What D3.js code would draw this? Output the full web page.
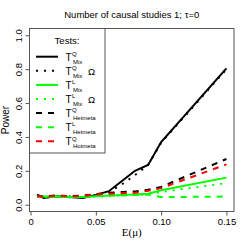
<!DOCTYPE html>
<html>
<head>
<meta charset="utf-8">
<script src="https://cdn.jsdelivr.net/npm/d3@7"></script>
<style>
  body { margin: 0; background: #fff; }
  svg { display: block; }
  text { font-family: "Liberation Sans", Arial, sans-serif; fill: #000; }
</style>
</head>
<body>
<script>
// E(mu) values on the x axis
const mus = [0.005, 0.01, 0.02, 0.03, 0.04, 0.05, 0.06, 0.07, 0.08, 0.09, 0.10, 0.15]

// power for each test
const tqMix     = [0.060, 0.040, 0.050, 0.045, 0.040, 0.058, 0.080, 0.140, 0.200, 0.235, 0.370, 0.805]
const tqMixOm   = [0.055, 0.045, 0.050, 0.048, 0.042, 0.055, 0.075, 0.120, 0.175, 0.235, 0.365, 0.800]
const tlMix     = [0.050, 0.048, 0.050, 0.045, 0.045, 0.050, 0.055, 0.058, 0.060, 0.065, 0.085, 0.160]
const tlMixOm   = [0.045, 0.045, 0.045, 0.042, 0.045, 0.048, 0.050, 0.055, 0.058, 0.060, 0.075, 0.128]
const tqHetmeta = [0.055, 0.048, 0.055, 0.050, 0.055, 0.062, 0.070, 0.075, 0.078, 0.088, 0.105, 0.270]
const tlHetmeta = [0.050, 0.045, 0.048, 0.045, 0.048, 0.052, 0.055, 0.055, 0.058, 0.060, 0.045, 0.048]
const tqHotmeta = [0.052, 0.045, 0.055, 0.048, 0.052, 0.060, 0.065, 0.068, 0.070, 0.082, 0.098, 0.238]

const xTicks = [0, 0.05, 0.10, 0.15]
const xTickLabels = ["0", "0.05", "0.10", "0.15"]
const yTicks = [0, 0.2, 0.4, 0.6, 0.8, 1.0]

// legend rows: super, sub, omega flag
const legendSup = ["Q", "Q", "L", "L", "Q", "L", "Q"]
const legendSub = ["Mix", "Mix", "Mix", "Mix", "Hetmeta", "Hetmeta", "Hotmeta"]
const legendOmega = [false, true, false, true, false, false, false]

const seriesValues = [tqMix, tqMixOm, tlMix, tlMixOm, tqHetmeta, tlHetmeta, tqHotmeta]
const seriesColors = ["#000000", "#000000", "#00ff00", "#00ff00", "#000000", "#00ff00", "#ff0000"]
const seriesDash = [null, "2,6", null, "2,6", "6,6", "6,6", "6,6"]

var W = 249, H = 249
var box = { left: 29.5, right: 234, top: 28.5, bottom: 211.5 }

var svg = d3.select("body").append("svg")
    .attr("width", W)
    .attr("height", H)

// R style: 4% padding around the data range
var xDom = d3.extent(mus)
var xPad = (xDom[1] - xDom[0]) * 0.04
var x = d3.scaleLinear()
    .domain([xDom[0] - xPad, xDom[1] + xPad])
    .range([box.left, box.right])

var y = d3.scaleLinear()
    .domain([-0.04, 1.04])
    .range([box.bottom, box.top])

// series
var line = d3.line()
    .x((d, i) => x(mus[i]))
    .y(d => y(d))

seriesValues.forEach((vals, k) => {
    svg.append("path")
        .datum(vals)
        .attr("d", line)
        .attr("fill", "none")
        .attr("stroke", seriesColors[k])
        .attr("stroke-width", 2)
        .attr("stroke-dasharray", seriesDash[k])
})

// axes
var xAxis = d3.axisBottom(x)
    .tickValues(xTicks)
    .tickFormat((d, i) => xTickLabels[i])
    .tickSize(4)
    .tickPadding(3)

var gx = svg.append("g")
    .attr("transform", "translate(0," + box.bottom + ")")
    .call(xAxis)
gx.select(".domain").remove()
gx.selectAll("line").attr("stroke", "#555")
gx.selectAll("text")
    .style("font-family", "Liberation Sans, Arial, sans-serif")
    .style("font-size", "9.5px")

var yAxis = d3.axisLeft(y)
    .tickValues(yTicks)
    .tickFormat(d3.format(".1f"))
    .tickSize(4)

var gy = svg.append("g")
    .attr("transform", "translate(" + box.left + ",0)")
    .call(yAxis)
gy.select(".domain").remove()
gy.selectAll("line").attr("stroke", "#555")
gy.selectAll("text")
    .attr("x", null).attr("dy", null)
    .attr("text-anchor", "middle")
    .attr("transform", "translate(-11,0) rotate(-90)")
    .attr("y", 0)
    .attr("dy", "0.35em")
    .style("font-family", "Liberation Sans, Arial, sans-serif")
    .style("font-size", "9.5px")

// plot box
svg.append("rect")
    .attr("x", box.left)
    .attr("y", box.top)
    .attr("width", box.right - box.left)
    .attr("height", box.bottom - box.top)
    .attr("fill", "none")
    .attr("stroke", "#555")
    .attr("stroke-width", 1)

// titles
svg.append("text")
    .attr("x", (box.left + box.right) / 2)
    .attr("y", 18)
    .attr("text-anchor", "middle")
    .style("font-size", "9.5px")
    .text("Number of causal studies 1; τ=0")

svg.append("text")
    .attr("x", (box.left + box.right) / 2)
    .attr("y", 236)
    .attr("text-anchor", "middle")
    .style("font-family", "Liberation Serif, Times New Roman, serif")
    .style("font-size", "11px")
    .text("E(μ)")

svg.append("text")
    .attr("transform", "translate(9," + ((box.top + box.bottom) / 2) + ") rotate(-90)")
    .attr("text-anchor", "middle")
    .style("font-size", "10px")
    .text("Power")

// legend
var leg = svg.append("g")
leg.append("rect")
    .attr("x", box.left)
    .attr("y", box.top)
    .attr("width", 105 - box.left)
    .attr("height", 153 - box.top)
    .attr("fill", "#fff")
    .attr("stroke", "#555")
    .attr("stroke-width", 1)

leg.append("text")
    .attr("x", 67)
    .attr("y", 44)
    .attr("text-anchor", "middle")
    .style("font-size", "9.5px")
    .text("Tests:")

seriesValues.forEach((vals, k) => {
    var ry = 56.7 + k * 14.1
    leg.append("line")
        .attr("x1", 36).attr("x2", 58)
        .attr("y1", ry).attr("y2", ry)
        .attr("stroke", seriesColors[k])
        .attr("stroke-width", 2)
        .attr("stroke-dasharray", seriesDash[k])
    leg.append("text")
        .attr("x", 65.5).attr("y", ry + 4)
        .style("font-size", "10px")
        .text("T")
    leg.append("text")
        .attr("x", 72).attr("y", ry - 0.8)
        .style("font-size", "6px")
        .text(legendSup[k])
    leg.append("text")
        .attr("x", 73).attr("y", ry + 6.8)
        .style("font-size", "6px")
        .text(legendSub[k])
    if (legendOmega[k]) {
        leg.append("text")
            .attr("x", 88).attr("y", ry + 4)
            .style("font-size", "9.5px")
            .text("Ω")
    }
})
</script>
</body>
</html>
